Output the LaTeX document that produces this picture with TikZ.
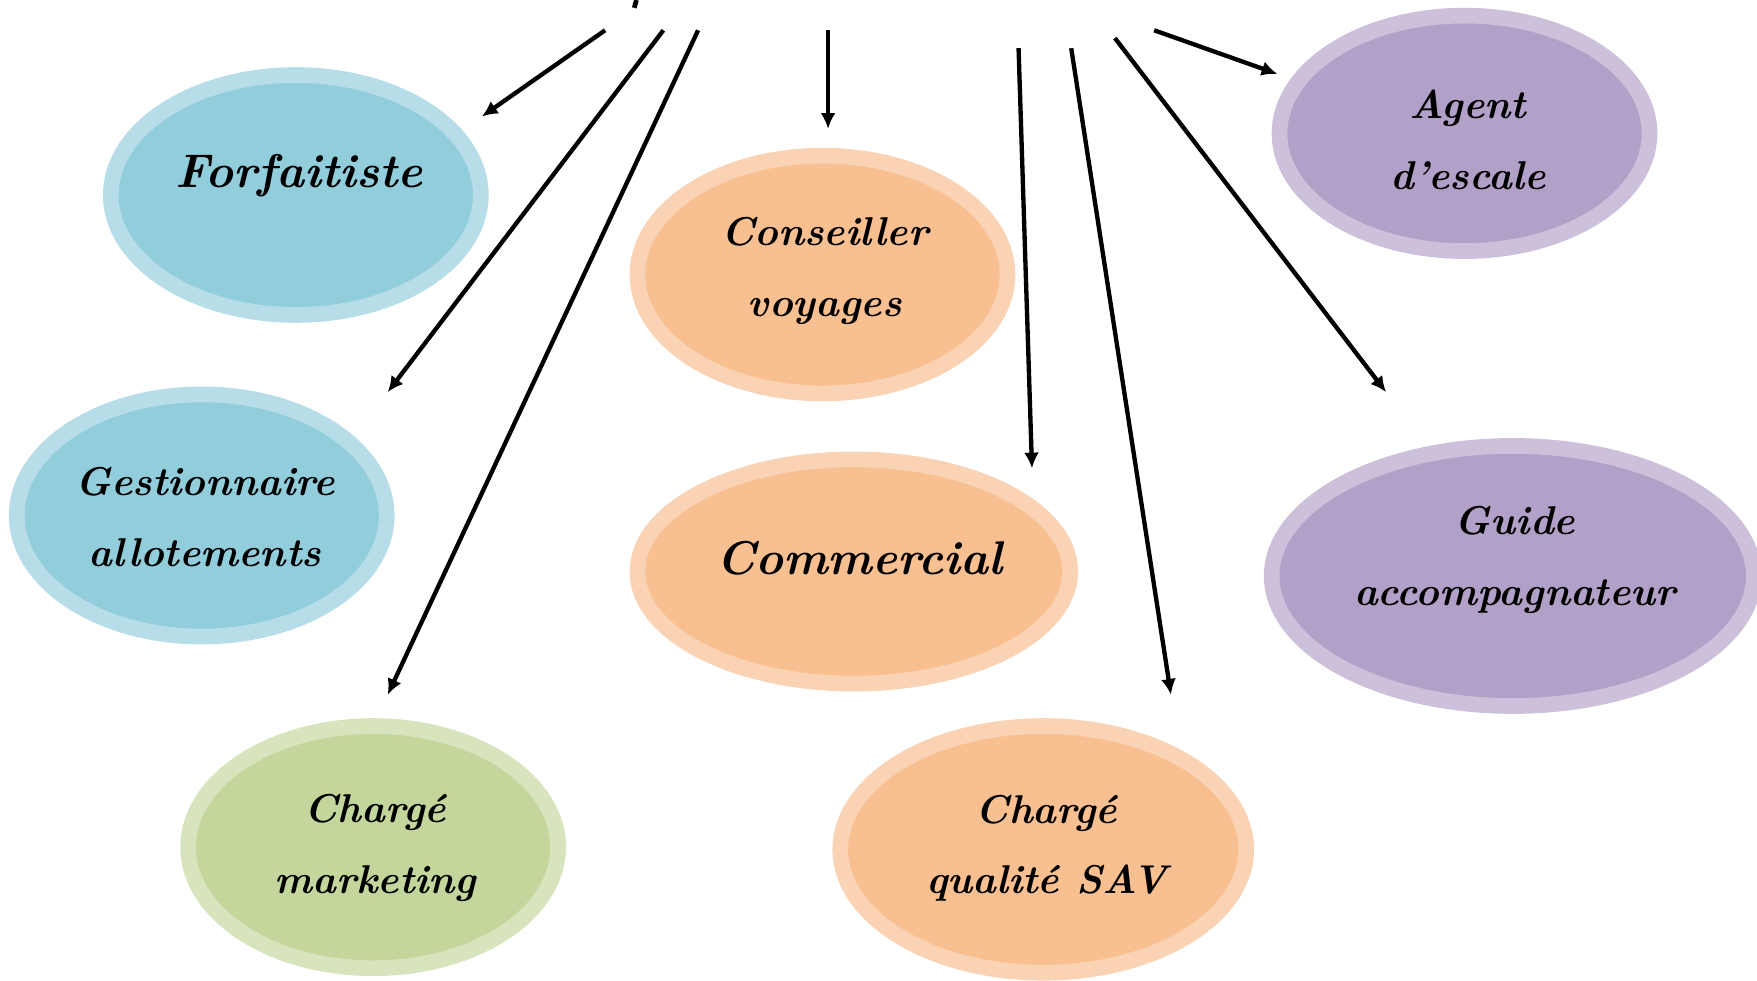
\documentclass[tikz,border=0pt]{standalone}
\usetikzlibrary{shapes.geometric,arrows.meta}
\definecolor{bluein}{HTML}{92CDDC}
\definecolor{blueout}{HTML}{B7DDE8}
\definecolor{orangein}{HTML}{F8C090}
\definecolor{orangeout}{HTML}{FAD3B4}
\definecolor{purplein}{HTML}{B1A0C7}
\definecolor{purpleout}{HTML}{CCC0DA}
\definecolor{greenin}{HTML}{C3D69B}
\definecolor{greenout}{HTML}{D7E4BD}
\begin{document}
\begin{tikzpicture}[x=0.01cm,y=-0.01cm,
  oval/.style={ellipse, inner sep=0pt, line width=0.14cm},
  bluebub/.style={oval, fill=bluein, draw=blueout},
  orangebub/.style={oval, fill=orangein, draw=orangeout},
  purplebub/.style={oval, fill=purplein, draw=purpleout},
  greenbub/.style={oval, fill=greenin, draw=greenout},
  lbl/.style={align=center, font=\bfseries\itshape\fontsize{10.2}{18}\selectfont},
  biglbl/.style={align=center, font=\bfseries\itshape\fontsize{12}{17}\selectfont},
  arr/.style={line width=1.1pt, -{Latex[length=4pt,width=3.8pt]}}
]
\useasboundingbox (0,0) rectangle (1568,875);

% ellipses
\node[bluebub, minimum width=3.30cm, minimum height=2.14cm] (forf) at (264,174) {};
\node[bluebub, minimum width=3.30cm, minimum height=2.16cm] (gest) at (180,460) {};
\node[greenbub, minimum width=3.30cm, minimum height=2.16cm] (mark) at (333,756) {};
\node[orangebub, minimum width=3.30cm, minimum height=2.12cm] (cons) at (734,245) {};
\node[orangebub, minimum width=3.86cm, minimum height=2.00cm] (comm) at (762,510) {};
\node[orangebub, minimum width=3.62cm, minimum height=2.20cm] (sav) at (931,758) {};
\node[purplebub, minimum width=3.30cm, minimum height=2.10cm] (agent) at (1307,119) {};
\node[purplebub, minimum width=4.30cm, minimum height=2.32cm] (guide) at (1350,514) {};

% labels
\node[biglbl] (tforf) at (267,157) {Forfaitiste};
\node[lbl] (tgest) at (183,461) {Gestionnaire\\allotements};
\node[lbl] (tmark) at (335,757) {Chargé\\marketing};
\node[lbl] (tcons) at (736,242) {Conseiller\\voyages};
\node[biglbl] (tcomm) at (767,498) {Commercial};
\node[lbl] (tsav) at (934,757) {Chargé\\qualité SAV};
\node[lbl] (tagent) at (1310,125) {Agent\\d’escale};
\node[lbl] (tguide) at (1352,500) {Guide\\accompagnateur};

% fragment of the cut-off title
\draw[line width=1.2pt] (568,0) -- (566,7);

% arrow start and end points
\coordinate (s1) at (540,27);   \coordinate (e1) at (430,104);
\coordinate (s2) at (592,27);   \coordinate (e2) at (346,350);
\coordinate (s3) at (623,27);   \coordinate (e3) at (346,620);
\coordinate (s4) at (739,27);   \coordinate (e4) at (739,115);
\coordinate (s5) at (909,43);   \coordinate (e5) at (921,418);
\coordinate (s6) at (956,43);   \coordinate (e6) at (1045,620);
\coordinate (s7) at (995,34);   \coordinate (e7) at (1237,350);
\coordinate (s8) at (1030,27);  \coordinate (e8) at (1140,66);

\draw[arr] (s1) -- (e1);
\draw[arr] (s2) -- (e2);
\draw[arr] (s3) -- (e3);
\draw[arr] (s4) -- (e4);
\draw[arr] (s5) -- (e5);
\draw[arr] (s6) -- (e6);
\draw[arr] (s7) -- (e7);
\draw[arr] (s8) -- (e8);
\end{tikzpicture}
\end{document}
